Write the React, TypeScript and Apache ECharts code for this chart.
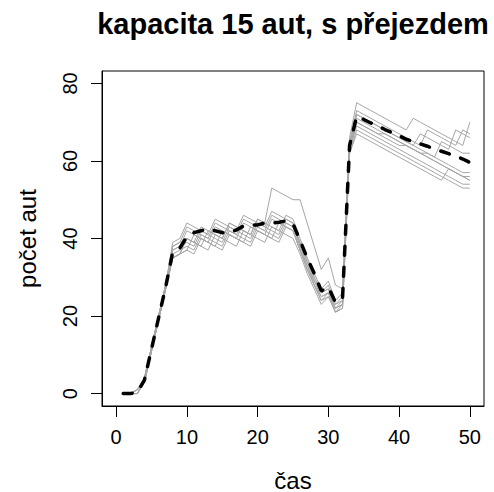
import { useEffect, useRef } from "react";
import * as echarts from "echarts";

// time steps (x axis)
const TIMES = [
  1, 2, 3, 4, 5, 6, 7, 8, 9, 10, 11, 12, 13, 14, 15, 16, 17, 18, 19, 20, 21, 22, 23, 24, 25,
  26, 27, 28, 29, 30, 31, 32, 33, 34, 35, 36, 37, 38, 39, 40, 41, 42, 43, 44, 45, 46, 47, 48, 49, 50,
];

// individual simulation runs: number of cars at each time step
const RUN_1 = [
  0, 0, 0, 3, 11, 19, 27,
  35, 36, 40, 39, 38, 42, 41, 40, 44, 43, 42, 41, 45, 44, 53, 52, 51,
  50, 50, 44, 38, 32, 35, 28, 27, 63,
  71, 70, 69, 68, 67, 66, 65, 64, 63, 62, 62, 61, 60, 59, 58, 57, 57,
];
const RUN_2 = [
  0, 0, 1, 4, 12, 20, 28,
  38, 39, 40, 39, 43, 42, 41, 40, 44, 43, 42, 41, 45, 44, 43, 42, 46,
  45, 40, 35, 31, 27, 29, 24, 26, 66,
  75, 74, 73, 72, 71, 70, 69, 68, 71, 70, 69, 68, 67, 66, 65, 64, 70,
];
const RUN_3 = [
  0, 0, 1, 4, 12, 20, 28,
  38, 39, 43, 42, 41, 40, 44, 43, 42, 41, 45, 44, 43, 42, 46, 45, 44,
  43, 39, 34, 30, 26, 28, 23, 25, 64,
  72, 71, 70, 69, 68, 67, 66, 65, 64, 67, 66, 65, 64, 63, 68, 67, 66,
];
const RUN_4 = [
  0, 0, 0, 3, 11, 19, 27,
  36, 37, 38, 37, 41, 40, 39, 38, 42, 41, 40, 39, 43, 42, 41, 40, 44,
  43, 38, 33, 29, 25, 26, 22, 24, 65,
  73, 72, 71, 70, 69, 68, 67, 66, 65, 64, 68, 67, 66, 65, 64, 68, 67,
];
const RUN_5 = [
  0, 0, 1, 3, 11, 19, 27,
  37, 38, 39, 38, 42, 41, 40, 39, 43, 42, 41, 40, 44, 43, 42, 41, 45,
  44, 38, 34, 29, 26, 27, 22, 23, 63,
  70, 69, 68, 67, 66, 65, 64, 64, 63, 62, 61, 60, 59, 58, 57, 56, 56,
];
const RUN_6 = [
  0, 0, 0, 4, 12, 20, 28,
  37, 38, 42, 41, 40, 39, 43, 42, 41, 40, 44, 43, 42, 41, 45, 44, 43,
  42, 37, 33, 28, 24, 26, 21, 22, 62,
  68, 67, 66, 65, 64, 63, 62, 61, 60, 59, 58, 57, 56, 55, 54, 53, 53,
];
const RUN_7 = [
  0, 0, 0, 3, 11, 19, 27,
  35, 36, 37, 36, 40, 39, 38, 37, 41, 40, 39, 38, 42, 41, 40, 39, 43,
  42, 37, 32, 28, 24, 25, 21, 23, 63,
  70, 69, 68, 67, 67, 66, 65, 64, 63, 62, 61, 60, 59, 58, 57, 56, 55,
];
const RUN_8 = [
  0, 0, 1, 4, 12, 20, 28,
  39, 40, 44, 43, 42, 41, 45, 44, 43, 42, 46, 45, 44, 43, 47, 46, 45,
  44, 39, 35, 30, 26, 27, 23, 24, 64,
  72, 71, 70, 69, 68, 67, 66, 65, 64, 63, 62, 61, 65, 64, 63, 62, 62,
];
const RUN_9 = [
  0, 0, 0, 3, 11, 19, 27,
  35, 36, 40, 39, 38, 37, 41, 40, 39, 38, 42, 41, 40, 39, 43, 42, 41,
  40, 36, 31, 27, 23, 25, 21, 22, 62,
  67, 66, 65, 64, 63, 62, 61, 60, 59, 58, 57, 56, 55, 58, 57, 56, 55,
];
const RUN_10 = [
  0, 0, 1, 4, 12, 20, 28,
  35, 36, 37, 41, 40, 39, 38, 42, 41, 40, 39, 43, 42, 41, 40, 44, 43,
  42, 37, 32, 28, 25, 26, 22, 23, 63,
  69, 68, 67, 66, 65, 64, 63, 62, 61, 60, 59, 58, 57, 56, 55, 54, 54,
];

const RUNS = [RUN_1, RUN_2, RUN_3, RUN_4, RUN_5, RUN_6, RUN_7, RUN_8, RUN_9, RUN_10];

// average over all runs
const MEAN = [
  0, 0, 0.4, 3.5, 11.5, 19.5, 27.5, 36.5, 37.5, 40.5,
  41.5, 42, 42.5, 42, 41.5, 41.5, 42.2, 43.2, 43.5, 43.5,
  44, 44, 44.2, 44.5, 43.8, 39.5, 35, 31, 26.5, 27.5,
  23.5, 24.5, 64, 71.5, 70.7, 69.8, 69, 68.1, 67.3, 66.5,
  65.6, 65, 64.4, 63.8, 63.1, 62.5, 61.9, 61.2, 60.5, 59.6,
];

const X_TICKS = [0, 10, 20, 30, 40, 50];
const Y_TICKS = [0, 20, 40, 60, 80];

const TITLE = "kapacita 15 aut, s přejezdem";
const X_NAME = "čas";
const Y_NAME = "počet aut";

const FONT = "'Liberation Sans', Arial, Helvetica, sans-serif";

export default function App() {
  const ref = useRef<HTMLDivElement>(null);

  useEffect(() => {
    if (!ref.current) return;
    const chart = echarts.init(ref.current, undefined, { renderer: "svg" });

    const runSeries = RUNS.map((run, k) => ({
      name: `run ${k + 1}`,
      type: "line",
      data: TIMES.map((t, i) => [t, run[i]]),
      symbol: "none",
      showSymbol: false,
      silent: true,
      z: 2,
      lineStyle: { color: "#a6a6a6", width: 1 },
    }));

    const meanSeries = {
      name: "mean",
      type: "line",
      data: TIMES.map((t, i) => [t, MEAN[i]]),
      symbol: "none",
      showSymbol: false,
      silent: true,
      z: 3,
      lineStyle: { color: "#000", width: 3.5, type: [9, 12], cap: "round" },
    };

    chart.setOption({
      animation: false,
      backgroundColor: "#fff",
      grid: {
        left: 102,
        right: 10,
        top: 71,
        bottom: 86,
        containLabel: false,
        outerBoundsMode: "none",
        show: true,
        borderColor: "#000",
        borderWidth: 1,
        backgroundColor: "transparent",
      },
      graphic: [
        {
          type: "text",
          x: 293,
          y: 24,
          style: {
            text: TITLE,
            fill: "#000",
            fontSize: 29,
            fontWeight: "bold",
            fontFamily: FONT,
            textAlign: "center",
            textVerticalAlign: "middle",
          },
        },
      ],
      xAxis: {
        type: "value",
        min: -2,
        max: 52,
        axisLine: { show: true, onZero: false, lineStyle: { color: "#000", width: 1 } },
        splitLine: { show: false },
        axisTick: {
          show: true,
          inside: false,
          length: 11,
          lineStyle: { color: "#000", width: 1 },
          customValues: X_TICKS,
        },
        axisLabel: {
          customValues: X_TICKS,
          margin: 21,
          fontSize: 20,
          color: "#000",
          fontFamily: FONT,
        },
        name: X_NAME,
        nameLocation: "middle",
        nameGap: 62,
        nameTextStyle: { fontSize: 24, color: "#000", fontFamily: FONT },
      },
      yAxis: {
        type: "value",
        min: -3.2,
        max: 83.2,
        axisLine: { show: true, onZero: false, lineStyle: { color: "#000", width: 1 } },
        splitLine: { show: false },
        axisTick: {
          show: true,
          inside: false,
          length: 11,
          lineStyle: { color: "#000", width: 1 },
          customValues: Y_TICKS,
        },
        axisLabel: {
          customValues: Y_TICKS,
          rotate: 90,
          margin: 22,
          fontSize: 20,
          color: "#000",
          fontFamily: FONT,
        },
        name: Y_NAME,
        nameLocation: "middle",
        nameRotate: 90,
        nameGap: 63,
        nameTextStyle: { fontSize: 24, color: "#000", fontFamily: FONT },
      },
      series: [...runSeries, meanSeries],
    });

    return () => chart.dispose();
  }, []);

  return (
    <div
      ref={ref}
      style={{ position: "absolute", left: 0, top: 0, width: 494, height: 492 }}
    />
  );
}
